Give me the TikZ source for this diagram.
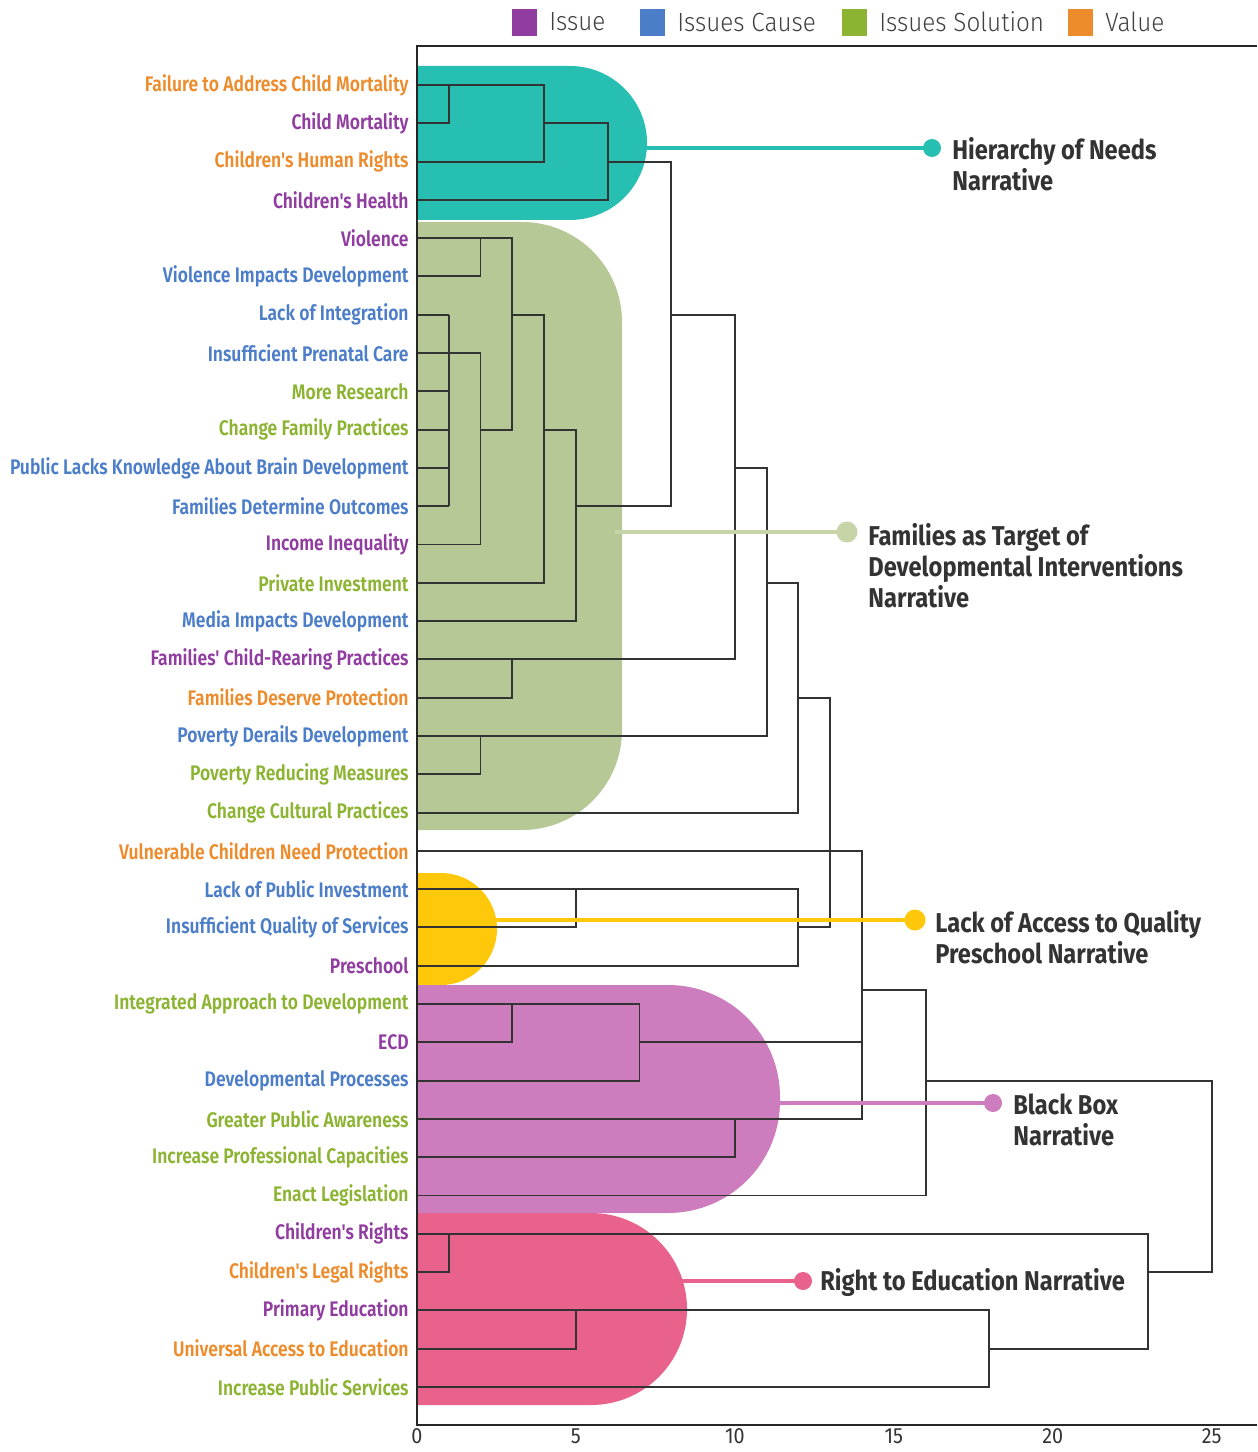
\documentclass[tikz,border=0pt]{standalone}
\usepackage{fontspec}
\setmainfont{Fira Sans}
\newfontfamily\leaffont[FakeStretch=0.83, UprightFont=* SemiBold]{Fira Sans}
\newfontfamily\narrfont[FakeStretch=0.87, UprightFont=* Bold]{Fira Sans}
\newfontfamily\keyfont[FakeStretch=0.92, UprightFont=* Light]{Fira Sans}
\newfontfamily\tickfont[FakeStretch=0.9]{Fira Sans}

\definecolor{val}{RGB}{236,140,45}
\definecolor{iss}{RGB}{145,60,160}
\definecolor{cau}{RGB}{75,125,200}
\definecolor{sol}{RGB}{140,180,50}
\definecolor{hier}{RGB}{38,191,178}
\definecolor{fam}{RGB}{181,200,150}
\definecolor{famstick}{RGB}{198,212,168}
\definecolor{pre}{RGB}{255,200,10}
\definecolor{box}{RGB}{205,125,190}
\definecolor{edu}{RGB}{232,98,140}

\tikzset{
  leaf/.style={anchor=east, inner sep=0pt, font=\leaffont\fontsize{12}{14}\selectfont},
  den/.style={line width=1.1pt, black!80},
  axisline/.style={line width=1.4pt, black!85},
  stick/.style={line width=2.6pt},
  narr/.style={anchor=west, align=left, inner sep=0pt, text=black!80,
    font=\narrfont\fontsize{15.5}{17.6}\selectfont},
  keytext/.style={anchor=west, inner sep=0pt, text=black!75,
    font=\keyfont\fontsize{15}{17}\selectfont},
  ticktext/.style={inner sep=0pt, text=black!80,
    font=\tickfont\fontsize{12.5}{14}\selectfont},
}

\begin{document}
\begin{tikzpicture}[x=0.02cm, y=-0.02cm]
  \useasboundingbox (0,0) rectangle (1257,1452);

  % narrative blobs
  \begin{scope}
    \clip (417,0) rectangle (1257,1452);
    \fill[hier, rounded corners=1.54cm] (300,66) rectangle (647,220);
    \fill[fam, rounded corners=2cm] (300,222) rectangle (622,830);
    \fill[pre, rounded corners=1.12cm] (300,873) rectangle (497,985);
    \fill[edu, rounded corners=1.92cm] (300,1213) rectangle (687,1405);
    \fill[box, rounded corners=2.24cm] (300,985) rectangle (780,1213);
  \end{scope}

  % dendrogram, x in distance units, y in rows
  \begin{scope}[xshift=8.34cm, yshift=-1.7cm, x=0.636cm, y=-0.766cm]
    \foreach \xa/\ra/\xm/\rb/\xb in {0/0/1/1/0, 1/0/4/2/0, 4/1/6/3/0,
        0/4/2/5/0, 1/7/2/12/0, 2/4/3/9/2, 3/6/4/13/0, 4/9/5/14/0,
        6/2/8/11/5, 0/15/3/16/0, 8/6/10/15/3, 0/17/2/18/0,
        10/10/11/17/2, 11/13/12/19/0, 0/21/5/22/0, 5/21/12/23/0,
        12/16/13/22/12, 0/24/3/25/0, 3/24/7/26/0, 0/27/10/28/0,
        0/20/14/27/10, 14/23.63/16/29/0, 0/30/1/31/0, 0/32/5/33/0,
        5/32/18/34/0, 1/30/23/33/18, 16/26/25/31/23}
      \draw[den] (\xa,\ra) -| (\xm,\rb) -- (\xb,\rb);
    \foreach \r in {6,...,11}
      \draw[den] (0,\r) -- (1,\r);
    \draw[den] (1,6) -- (1,11);
    \draw[den] (7,25) -- (14,25);

    \foreach \t/\c [count=\i from 0] in {
        Failure to Address Child Mortality/val, Child Mortality/iss,
        Children's Human Rights/val, Children's Health/iss, Violence/iss,
        Violence Impacts Development/cau, Lack of Integration/cau,
        Insufficient Prenatal Care/cau, More Research/sol,
        Change Family Practices/sol,
        Public Lacks Knowledge About Brain Development/cau,
        Families Determine Outcomes/cau, Income Inequality/iss,
        Private Investment/sol, Media Impacts Development/cau,
        Families' Child-Rearing Practices/iss,
        Families Deserve Protection/val, Poverty Derails Development/cau,
        Poverty Reducing Measures/sol, Change Cultural Practices/sol,
        Vulnerable Children Need Protection/val,
        Lack of Public Investment/cau,
        Insufficient Quality of Services/cau, Preschool/iss,
        Integrated Approach to Development/sol, ECD/iss,
        Developmental Processes/cau, Greater Public Awareness/sol,
        Increase Professional Capacities/sol, Enact Legislation/sol,
        Children's Rights/iss, Children's Legal Rights/val,
        Primary Education/iss, Universal Access to Education/val,
        Increase Public Services/sol}
      \node[leaf, text=\c] (l\i) at (-0.25,\i) {\t};

    \foreach \v in {0,5,...,25}
      \node[ticktext] (t\v) at (\v,35.28) {\v};
  \end{scope}

  \draw[axisline] (1257,46) -- (417,46) -- (417,1425) -- (1257,1425);

  % sticks to the narrative names
  \coordinate (h0) at (640,148);  \coordinate (h1) at (932,148);
  \coordinate (f0) at (615,532);  \coordinate (f1) at (847,532);
  \coordinate (p0) at (490,920);  \coordinate (p1) at (915,920);
  \coordinate (b0) at (772,1103); \coordinate (b1) at (993,1103);
  \coordinate (e0) at (680,1281); \coordinate (e1) at (803,1281);
  \draw[stick, hier] (h0) -- (h1);
  \fill[hier] (h1) circle[radius=0.18cm];
  \draw[stick, famstick] (f0) -- (f1);
  \fill[famstick] (f1) circle[radius=0.21cm];
  \draw[stick, pre] (p0) -- (p1);
  \fill[pre] (p1) circle[radius=0.21cm];
  \draw[stick, box] (b0) -- (b1);
  \fill[box] (b1) circle[radius=0.18cm];
  \draw[stick, edu] (e0) -- (e1);
  \fill[edu] (e1) circle[radius=0.18cm];

  \node[narr] (nh) at (952,164) {Hierarchy of Needs\\Narrative};
  \node[narr] (nf) at (868,566) {Families as Target of\\Developmental Interventions\\Narrative};
  \node[narr] (np) at (935,937) {Lack of Access to Quality\\Preschool Narrative};
  \node[narr] (nb) at (1013,1120) {Black Box\\Narrative};
  \node[narr] (nr) at (820,1282) {Right to Education Narrative};

  % legend
  \foreach \c/\t/\x in {iss/Issue/512, cau/Issues Cause/640,
      sol/Issues Solution/842, val/Value/1068} {
    \fill[\c] (\x,9) rectangle ++(25,27);
    \node[keytext] (k\x) at (\x+37,22) {\t};
  }
\end{tikzpicture}
\end{document}
